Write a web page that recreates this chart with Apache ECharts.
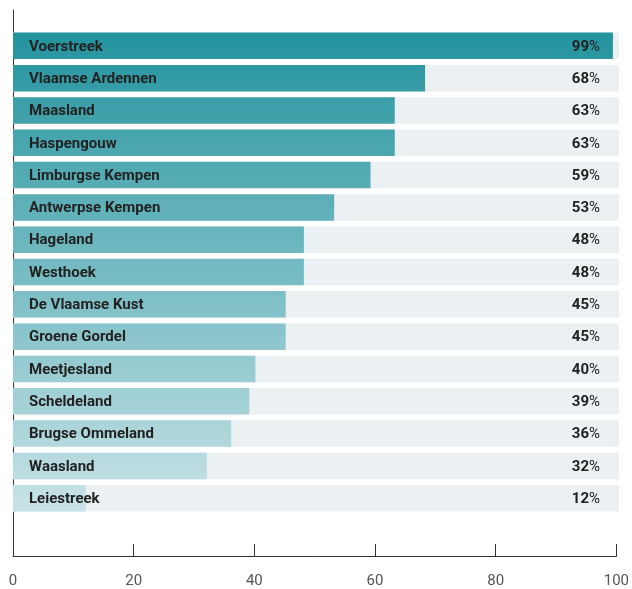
<!DOCTYPE html>
<html><head><meta charset="utf-8">
<script src="https://cdn.jsdelivr.net/npm/echarts@6/dist/echarts.min.js"></script>
<style>html,body{margin:0;padding:0;background:#fff}#c{width:632px;height:589px}</style>
</head><body><div id="c"></div>
<script>
const categories = ["Voerstreek","Vlaamse Ardennen","Maasland","Haspengouw","Limburgse Kempen","Antwerpse Kempen","Hageland","Westhoek","De Vlaamse Kust","Groene Gordel","Meetjesland","Scheldeland","Brugse Ommeland","Waasland","Leiestreek"];
const values = [99,68,63,63,59,53,48,48,45,45,40,39,36,32,12];
const xTicks = [0,20,40,60,80,100];
const maxValue = 100;

const chart = echarts.init(document.getElementById('c'));
const FONT = 'Roboto';
chart.setOption({
  animation: false,
  grid: [
    {left: 13, width: 606, top: 29.7, height: 484.7, containLabel: false},
    {left: 13, width: 606, top: 10, height: 547, containLabel: false}
  ],
  xAxis: [
    {gridIndex: 0, type: 'value', min: 0, max: maxValue, show: false},
    {gridIndex: 1, type: 'value', min: xTicks[0], max: xTicks[xTicks.length-1], interval: xTicks[1]-xTicks[0],
      axisLine: {show: true, lineStyle: {color: '#333', width: 1}},
      axisTick: {show: true, inside: true, length: 12, lineStyle: {color: '#333', width: 1}},
      axisLabel: {color: '#555', fontFamily: FONT, fontSize: 15, margin: 18},
      splitLine: {show: false}}
  ],
  yAxis: [
    {gridIndex: 0, type: 'category', data: categories, inverse: true, show: false},
    {gridIndex: 1, type: 'value', min: 0, max: 1,
      axisLine: {show: true, lineStyle: {color: '#333', width: 1}},
      axisTick: {show: false}, axisLabel: {show: false}, splitLine: {show: false}}
  ],
  series: [
    {
      type: 'bar', xAxisIndex: 0, yAxisIndex: 0, barWidth: 26.5, barGap: '-100%',
      data: categories.map(() => maxValue),
      itemStyle: {color: '#ebf0f2'},
      label: {
        show: true, position: 'insideRight', distance: 19, offset: [0, 1],
        formatter: (p) => '{b|' + values[p.dataIndex] + '}{p|%}',
        rich: {
          b: {fontFamily: FONT, fontWeight: 'bold', fontSize: 15, color: '#222'},
          p: {fontFamily: FONT, fontWeight: 'normal', fontSize: 15, color: '#222'}
        }
      },
      silent: true
    },
    {
      type: 'bar', xAxisIndex: 0, yAxisIndex: 0, barWidth: 26.5,
      data: values,
      itemStyle: {
        color: new echarts.graphic.LinearGradient(0, 33, 0, 512, [
          {offset: 0, color: '#23939e'},
          {offset: 1, color: '#c9e3e7'}
        ], true)
      },
      label: {
        show: true, position: 'insideLeft', distance: 16, offset: [0, 1],
        formatter: (p) => categories[p.dataIndex],
        fontFamily: FONT, fontWeight: 'bold', fontSize: 15, color: '#222'
      }
    }
  ]
});
</script></body></html>
